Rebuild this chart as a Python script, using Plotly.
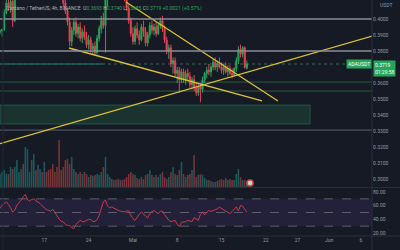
import pandas as pd
import plotly.graph_objects as go

# ---------------- data ----------------
start = "2023-04-10 00:00"
opens = [.3920,.3925,.3935,.4040,.4100,.4070,.4110,.3990,.4140,.4200,
         .4250,.4300,.4280,.4350,.4400,.4450,.4500,.4550,.4480,.4580,
         .4600,.4520,.4550,.4450,.4400,.4350,.4300,.4250,.4200,.4180,
         .4150,.4100,.4050,.3980,.3860,.3930,.3980,.3910,.3950,.3880,
         .3920,.3890,.3840,.3870,.3810,.3830,.3790,.3880,.3940,.3990,
         .3960,.4120,.4150,.4200,.4180,.4220,.4190,.4170,.4210,.4160,
         .4130,.4070,.3990,.3910,.3860,.3940,.3900,.3870,.3950,.3920,
         .3850,.3900,.3960,.3930,.3950,.3910,.3960,.3990,.3940,.3870,
         .3800,.3820,.3720,.3740,.3660,.3680,.3620,.3670,.3620,.3660,
         .3640,.3590,.3620,.3570,.3540,.3580,.3560,.3620,.3660,.3680,
         .3670,.3700,.3730,.3700,.3720,.3700,.3680,.3700,.3670,.3690,
         .3660,.3650,.3690,.3740,.3810,.3780,.3820,.3693]
highs = [.3935,.3940,.4060,.4130,.4140,.4120,.4125,.4150,.4210,.4260,
         .4320,.4330,.4370,.4420,.4470,.4520,.4580,.4570,.4600,.4630,
         .4610,.4570,.4560,.4480,.4430,.4380,.4330,.4280,.4230,.4210,
         .4170,.4120,.4070,.4010,.3950,.4000,.4010,.3970,.3980,.3940,
         .3960,.3920,.3900,.3890,.3850,.3860,.3900,.3960,.4020,.4040,
         .4150,.4180,.4210,.4230,.4240,.4240,.4210,.4230,.4220,.4180,
         .4160,.4090,.4010,.3950,.3960,.3980,.3930,.3970,.3990,.3950,
         .3920,.3980,.3990,.3970,.3980,.3970,.4010,.4020,.3960,.3890,
         .3840,.3840,.3760,.3760,.3700,.3700,.3690,.3690,.3680,.3690,
         .3670,.3640,.3650,.3600,.3600,.3600,.3640,.3670,.3700,.3720,
         .3710,.3750,.3760,.3740,.3760,.3730,.3720,.3730,.3710,.3710,
         .3690,.3700,.3760,.3830,.3840,.3830,.3830,.3740]
lows  = [.3905,.3890,.3925,.4030,.4050,.4040,.3950,.3980,.4120,.4180,
         .4230,.4250,.4260,.4320,.4380,.4420,.4470,.4450,.4460,.4550,
         .4500,.4490,.4420,.4380,.4330,.4280,.4220,.4170,.4150,.4120,
         .4080,.4030,.3960,.3830,.3830,.3900,.3890,.3880,.3860,.3850,
         .3870,.3820,.3810,.3790,.3780,.3770,.3780,.3860,.3910,.3940,
         .3790,.4080,.4130,.4160,.4170,.4170,.4150,.4160,.4140,.4110,
         .4050,.3970,.3890,.3840,.3840,.3880,.3840,.3860,.3890,.3830,
         .3830,.3880,.3910,.3900,.3890,.3900,.3940,.3920,.3850,.3780,
         .3750,.3700,.3660,.3640,.3600,.3540,.3600,.3600,.3590,.3620,
         .3570,.3560,.3550,.3520,.3520,.3480,.3540,.3600,.3630,.3650,
         .3640,.3680,.3680,.3670,.3690,.3660,.3650,.3660,.3640,.3650,
         .3630,.3640,.3670,.3720,.3760,.3760,.3690,.3685]
closes = [.3925,.3935,.4040,.4100,.4070,.4110,.3990,.4140,.4200,.4250,
          .4300,.4280,.4350,.4400,.4450,.4500,.4550,.4480,.4580,.4600,
          .4520,.4550,.4450,.4400,.4350,.4300,.4250,.4200,.4180,.4150,
          .4100,.4050,.3980,.3860,.3930,.3980,.3910,.3950,.3880,.3920,
          .3890,.3840,.3870,.3810,.3830,.3790,.3880,.3940,.3990,.3960,
          .4120,.4150,.4200,.4180,.4220,.4190,.4170,.4210,.4160,.4130,
          .4070,.3990,.3910,.3860,.3940,.3900,.3870,.3950,.3920,.3850,
          .3900,.3960,.3930,.3950,.3910,.3960,.3990,.3940,.3870,.3800,
          .3820,.3720,.3740,.3660,.3680,.3620,.3670,.3620,.3660,.3640,
          .3590,.3620,.3570,.3540,.3580,.3560,.3620,.3660,.3680,.3670,
          .3700,.3730,.3700,.3720,.3700,.3680,.3700,.3670,.3690,.3660,
          .3650,.3690,.3740,.3810,.3780,.3820,.3698,.3719]
volumes = [13,15,17,13,13,20,18,20,27,15,18,23,40,38,15,27,33,17,22,18,
           15,25,15,17,18,23,15,20,47,17,20,27,28,23,30,18,15,13,15,13,
           15,13,10,12,11,12,13,12,15,20,30,13,10,8,7,7,8,7,7,8,
           10,13,15,13,12,9,8,10,8,12,13,17,12,10,12,10,13,15,10,8,
           10,15,20,13,12,17,25,13,10,12,13,17,32,10,12,13,12,9,7,7,
           6,5,5,6,7,8,7,9,7,8,7,7,13,18,10,7,7,5]
rsi = [55.8,60.8,63.2,65.7,61.7,57.3,50.4,53.3,60.8,64.2,
       68.1,73.1,76.5,69.1,66.7,69.1,70.1,67.2,65.7,63.2,
       59.8,56.8,54.3,53.3,51.9,54.8,50.9,45.4,40.5,37.5,
       36.1,32.6,31.1,31.1,27.7,26.2,32.6,36.1,38.5,36.6,
       36.6,38.5,40.0,40.0,36.6,37.0,39.5,46.0,55.8,65.7,
       68.1,59.3,56.8,58.3,56.3,55.3,53.3,51.9,50.9,50.9,
       52.4,52.4,46.0,41.0,38.5,43.5,47.4,50.9,48.4,44.9,
       42.0,48.4,51.4,52.8,50.4,48.4,51.9,51.9,47.0,42.5,
       38.5,36.6,37.5,38.5,32.6,29.6,35.6,36.1,36.6,38.5,
       37.5,36.6,42.5,41.0,38.5,47.4,50.4,46.4,49.9,53.3,
       51.4,52.4,53.3,55.3,57.8,55.8,53.3,51.4,49.9,48.4,
       51.4,55.3,58.3,52.4,60.3,59.3,54.3,50.4]

# drawings (date, price)
down_line_x = ["2023-04-29 21:36", "2023-05-23 22:00"]
down_line_y = [0.4106, 0.3488]
low_line_x = ["2023-04-20 21:36", "2023-05-21 09:36"]
low_line_y = [0.3819, 0.3488]
up_line_x = ["2023-04-10 00:00", "2023-06-07 21:36"]
up_line_y = [0.3221, 0.3895]
gray_levels = [0.4000, 0.3800]
gray_thin_level = 0.3306
green_levels = [0.3606, 0.3550]
zone = dict(x0="2023-04-10 00:00", x1="2023-05-29 00:00", y0=0.33438, y1=0.34625)
ray_x = ["2023-04-10 00:00", "2023-04-26 07:00"]
last_price = 0.3719

x_range = ["2023-04-10 00:00", "2023-06-07 18:30"]
x_tickvals = ["2023-04-17", "2023-04-24", "2023-05-01", "2023-05-08", "2023-05-15",
              "2023-05-22", "2023-05-27", "2023-06-01", "2023-06-06"]
x_ticktext = ["17", "24", "Mai", "8", "15", "22", "27", "Jun", "6"]
price_ticks = [0.40, 0.39, 0.38, 0.36, 0.35, 0.34, 0.33, 0.32, 0.31, 0.30]
rsi_ticks = [80, 60, 40, 20]

# ---------------- figure ----------------
dates = pd.date_range(start, periods=len(opens), freq="8h")
UP, DN = "#26a65b", "#e8414f"
vol_colors = ["rgba(38,166,154,0.45)" if c >= o else "rgba(239,83,80,0.45)"
              for o, c in zip(opens, closes)]

BG = "#161a25"
TXT = "#9598a1"
W, H = 400, 250
XD = 372 / W
price_dom = [1 - 187 / H, 1]
rsi_dom = [1 - 236 / H, 1 - 188 / H]

fig = go.Figure()
fig.add_trace(go.Bar(x=dates, y=volumes, marker_color=vol_colors, marker_line_width=0,
                     xaxis="x", yaxis="y3", hoverinfo="skip"))
fig.add_trace(go.Candlestick(x=dates, open=opens, high=highs, low=lows, close=closes,
                             xaxis="x", yaxis="y",
                             increasing=dict(line=dict(color=UP, width=1), fillcolor=UP),
                             decreasing=dict(line=dict(color=DN, width=1), fillcolor=DN),
                             whiskerwidth=0))
for lx, ly in [(down_line_x, down_line_y), (low_line_x, low_line_y), (up_line_x, up_line_y)]:
    fig.add_trace(go.Scatter(x=lx, y=ly, mode="lines", xaxis="x", yaxis="y",
                             line=dict(color="#d9c23a", width=1.3), hoverinfo="skip"))
fig.add_trace(go.Scatter(x=ray_x, y=[last_price, last_price], mode="lines", xaxis="x", yaxis="y",
                         line=dict(color="#1e5e57", width=1.3), hoverinfo="skip"))
# RSI
fig.add_trace(go.Scatter(x=dates, y=rsi, mode="lines", xaxis="x2", yaxis="y2",
                         line=dict(color="#c93a4c", width=1), hoverinfo="skip"))
# marker icon in volume area
fig.add_trace(go.Scatter(x=[pd.Timestamp("2023-05-19 12:00")], y=[4], mode="markers",
                         xaxis="x", yaxis="y3",
                         marker=dict(size=6, color="#b8e0c0", line=dict(color="#e8414f", width=1.5))))

shapes = []
# zone
shapes.append(dict(type="rect", xref="x", yref="y", layer="below",
                   fillcolor="rgba(40,110,70,0.30)", line=dict(color="rgba(40,140,110,0.45)", width=1),
                   **zone))
for lv in gray_levels:
    shapes.append(dict(type="line", xref="paper", yref="y", x0=0, x1=XD, y0=lv, y1=lv,
                       line=dict(color="#8b8e97", width=1.5), layer="above"))
shapes.append(dict(type="line", xref="paper", yref="y", x0=0, x1=XD, y0=gray_thin_level,
                   y1=gray_thin_level, line=dict(color="#5d606b", width=1), layer="below"))
for lv in green_levels:
    shapes.append(dict(type="line", xref="paper", yref="y", x0=0, x1=XD, y0=lv, y1=lv,
                       line=dict(color="#2b5a3c", width=1), layer="below"))
shapes.append(dict(type="line", xref="paper", yref="y", x0=0, x1=XD, y0=last_price, y1=last_price,
                   line=dict(color="#2a6e50", width=1, dash="dot"), layer="below"))
# RSI band & levels
shapes.append(dict(type="rect", xref="paper", yref="y2", x0=0, x1=XD, y0=30, y1=70,
                   fillcolor="rgba(126,87,194,0.13)", line_width=0, layer="below"))
for lv in [70, 50, 30]:
    shapes.append(dict(type="line", xref="paper", yref="y2", x0=0, x1=XD, y0=lv, y1=lv,
                       line=dict(color="#5d606b", width=1, dash="dash"), layer="below"))
# separators
shapes.append(dict(type="line", xref="paper", yref="paper", x0=XD, x1=XD, y0=0, y1=1,
                   line=dict(color="#2a2e39", width=1)))
for yp in [1 - 187.5 / H, 1 - 236 / H]:
    shapes.append(dict(type="line", xref="paper", yref="paper", x0=0, x1=1, y0=yp, y1=yp,
                       line=dict(color="#2a2e39", width=1)))
shapes.append(dict(type="line", xref="paper", yref="paper", x0=3 / W, x1=3 / W, y0=0, y1=1,
                   line=dict(color="#222632", width=1)))

ann = []
ann.append(dict(xref="paper", yref="paper", x=4 / W, y=1 - 8 / H, xanchor="left", yanchor="middle",
                showarrow=False, font=dict(size=5, color="#b2b5be", family="Roboto"),
                text="Cardano / TetherUS, 4h, BINANCE  "
                     "O<span style='color:#26a65b'>0.3693</span> H<span style='color:#26a65b'>0.3740</span> "
                     "L<span style='color:#26a65b'>0.3685</span> C<span style='color:#26a65b'>0.3719</span> "
                     "<span style='color:#26a65b'>+0.0021 (+0.57%)</span>"))
ann.append(dict(xref="paper", yref="paper", x=378 / W, y=1 - 5 / H, xanchor="left", yanchor="middle",
                showarrow=False, font=dict(size=5, color=TXT, family="Roboto"), text="USDT"))
ann.append(dict(xref="paper", yref="y", x=XD + 0.002, y=last_price, xanchor="left", yanchor="top",
                yshift=4, showarrow=False, bgcolor=UP, borderpad=1,
                font=dict(size=5, color="#ffffff", family="Roboto"),
                text="0.3719<br>01:29:58", align="left"))
ann.append(dict(xref="paper", yref="y", x=XD, y=last_price, xanchor="right", yanchor="middle",
                showarrow=False, bgcolor=UP, borderpad=1,
                font=dict(size=5, color="#ffffff", family="Roboto"), text="ADAUSDT"))

fig.update_layout(
    width=W, height=H, margin=dict(l=0, r=0, t=0, b=0),
    paper_bgcolor=BG, plot_bgcolor=BG, showlegend=False, bargap=0.25,
    font=dict(family="Roboto", size=5, color=TXT),
    shapes=shapes, annotations=ann,
    xaxis=dict(domain=[0, XD], range=x_range, anchor="y", showticklabels=False, showgrid=False,
               zeroline=False, rangeslider=dict(visible=False), showline=False),
    yaxis=dict(domain=price_dom, range=[0.295025, 0.4119], side="right", anchor="x",
               tickvals=price_ticks, ticktext=[f"{v:.4f}" for v in price_ticks],
               showgrid=False, zeroline=False, ticks="", tickfont=dict(size=5, color=TXT)),
    yaxis3=dict(overlaying="y", range=[0, 187], visible=False, anchor="x"),
    xaxis2=dict(domain=[0, XD], range=x_range, anchor="y2", tickvals=x_tickvals, ticktext=x_ticktext,
                showgrid=False, zeroline=False, ticks="", tickfont=dict(size=5, color=TXT)),
    yaxis2=dict(domain=rsi_dom, range=[15.6, 85.9], side="right", anchor="x2",
                tickvals=rsi_ticks, ticktext=[f"{v:.2f}" for v in rsi_ticks],
                showgrid=False, zeroline=False, ticks="", tickfont=dict(size=5, color=TXT)),
)
fig.write_html("out.html")
